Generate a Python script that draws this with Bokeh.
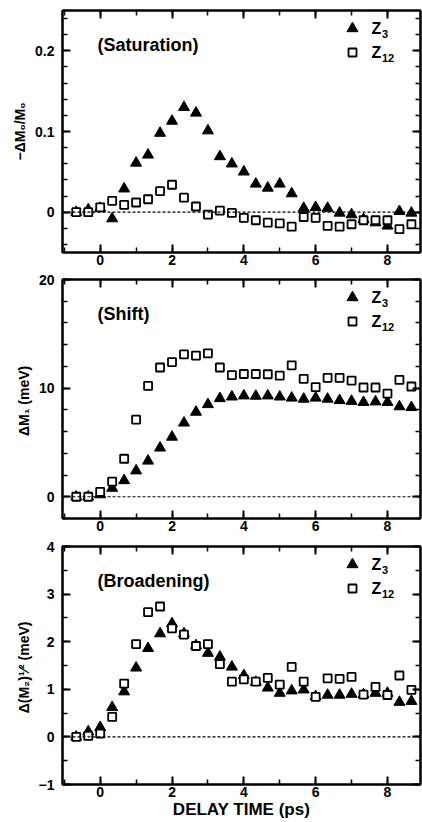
from bokeh.plotting import figure
from bokeh.layouts import column
from bokeh.models import (Range1d, LinearAxis, Label, SingleIntervalTicker,
                          CustomJSTickFormatter, Span)
from bokeh.embed import file_html
from bokeh.resources import INLINE

# ---------------- data ----------------
delay_ps = [-0.667, -0.333, 0.0, 0.333, 0.667, 1.0, 1.333, 1.667, 2.0, 2.333,
            2.667, 3.0, 3.333, 3.667, 4.0, 4.333, 4.667, 5.0, 5.333, 5.667,
            6.0, 6.333, 6.667, 7.0, 7.333, 7.667, 8.0, 8.333, 8.667]

sat_z3 = [0.0, 0.003, 0.005, -0.008, 0.029, 0.061, 0.071, 0.098, 0.113, 0.130,
          0.123, 0.101, 0.069, 0.060, 0.050, 0.035, 0.030, 0.035, 0.023, 0.005,
          0.006, 0.005, -0.001, -0.003, -0.009, -0.013, -0.017, 0.001, -0.001]
sat_z12 = [0.0, 0.0, 0.006, 0.014, 0.009, 0.012, 0.016, 0.026, 0.034, 0.018,
           0.007, -0.003, 0.002, -0.001, -0.007, -0.010, -0.013, -0.014, -0.018, -0.006,
           -0.007, -0.017, -0.018, -0.015, -0.010, -0.010, -0.010, -0.021, -0.015]

shift_z3 = [0.0, 0.0, 0.2, 0.8, 1.5, 2.4, 3.3, 4.5, 5.5, 6.8,
            7.8, 8.5, 9.05, 9.2, 9.3, 9.27, 9.3, 9.2, 9.1, 9.0,
            9.1, 9.0, 8.87, 8.8, 8.7, 8.75, 8.7, 8.3, 8.23]
shift_z12 = [0.0, 0.0, 0.46, 1.4, 3.5, 7.1, 10.2, 11.9, 12.4, 13.1,
             13.0, 13.2, 11.9, 11.2, 11.3, 11.3, 11.28, 11.15, 12.1, 10.85,
             10.1, 10.95, 10.95, 10.7, 10.06, 10.06, 9.5, 10.76, 10.15]

broad_z3 = [0.0, 0.11, 0.2, 0.62, 0.95, 1.45, 1.86, 2.17, 2.38, 2.17,
            1.92, 1.76, 1.68, 1.47, 1.29, 1.15, 1.03, 0.92, 0.97, 0.99,
            0.85, 0.88, 0.88, 0.9, 0.89, 0.92, 0.92, 0.73, 0.75]
broad_z12 = [0.0, 0.02, 0.07, 0.42, 1.12, 1.95, 2.62, 2.74, 2.28, 2.15,
             1.91, 1.95, 1.53, 1.16, 1.21, 1.16, 1.24, 1.1, 1.47, 1.16,
             0.84, 1.23, 1.22, 1.26, 0.89, 1.05, 0.88, 1.29, 0.99]

panel_titles = ["(Saturation)", "(Shift)", "(Broadening)"]
y_labels = ["\u2212\u0394M\u2080/M\u2080", "\u0394M\u2081  (meV)", "\u0394(M\u2082)\u00b9\u2044\u00b2  (meV)"]
x_label = "DELAY TIME (ps)"
legend_main = ["Z", "Z"]
legend_sub = ["3", "12"]

# ---------------- layout ----------------
FONT = "Liberation Sans"
X_START, X_END = -1.05, 8.92
FIG_W = 422
B_LEFT, B_RIGHT = 62, 2
FRAME_W = FIG_W - B_LEFT - B_RIGHT

panels = [
    dict(z3=sat_z3, z12=sat_z12, yr=(-0.05, 0.25), interval=0.1, minor=5, dec=1,
         fh=242, bt=10, bb=18),
    dict(z3=shift_z3, z12=shift_z12, yr=(-2, 20), interval=10, minor=5, dec=0,
         fh=239, bt=9, bb=19),
    dict(z3=broad_z3, z12=broad_z12, yr=(-1, 4), interval=1, minor=2, dec=0,
         fh=238, bt=9, bb=38),
]


def fmt(dec):
    return CustomJSTickFormatter(code=f"""
        if (Math.abs(tick) < 1e-9) return "0";
        let s = Math.abs(tick).toFixed({dec});
        return (tick < 0 ? "\\u2212" : "") + s;
    """)


def style_axis(ax, show_labels=True):
    ax.axis_line_width = 2
    ax.axis_line_color = "black"
    ax.major_tick_in = 8
    ax.major_tick_out = 0
    ax.minor_tick_in = 5
    ax.minor_tick_out = 0
    ax.major_tick_line_width = 2
    ax.minor_tick_line_width = 1.5
    ax.major_label_text_font = FONT
    ax.major_label_text_font_style = "bold"
    ax.major_label_text_font_size = "14px"
    ax.major_label_text_color = "black"
    if not show_labels:
        ax.formatter = CustomJSTickFormatter(code="return '';")
        ax.major_label_standoff = 0


figs = []
for i, cfg in enumerate(panels):
    y0, y1 = cfg["yr"]
    h = cfg["bt"] + cfg["fh"] + cfg["bb"]
    p = figure(width=FIG_W, height=h, output_backend="svg", toolbar_location=None,
               x_range=Range1d(X_START, X_END), y_range=Range1d(y0, y1),
               min_border_left=B_LEFT, min_border_right=B_RIGHT,
               min_border_top=cfg["bt"], min_border_bottom=cfg["bb"])
    p.grid.visible = False
    p.outline_line_color = "black"
    p.outline_line_width = 2
    p.background_fill_color = "white"
    p.border_fill_color = "white"

    bottom_ax = p.below[0]
    left_ax = p.left[0]
    bottom_ax.ticker = SingleIntervalTicker(interval=2, num_minor_ticks=2)
    left_ax.ticker = SingleIntervalTicker(interval=cfg["interval"], num_minor_ticks=cfg["minor"])
    left_ax.formatter = fmt(cfg["dec"])
    style_axis(bottom_ax)
    bottom_ax.major_label_standoff = 2
    style_axis(left_ax)
    left_ax.major_label_standoff = 8
    left_ax.axis_label = y_labels[i]
    left_ax.axis_label_text_font = FONT
    left_ax.axis_label_text_font_style = "bold"
    left_ax.axis_label_text_font_size = "14px"
    left_ax.axis_label_text_color = "black"
    left_ax.axis_label_standoff = 4

    top = LinearAxis(ticker=SingleIntervalTicker(interval=2, num_minor_ticks=2))
    style_axis(top, show_labels=False)
    p.add_layout(top, "above")
    right = LinearAxis(ticker=SingleIntervalTicker(interval=cfg["interval"], num_minor_ticks=cfg["minor"]))
    style_axis(right, show_labels=False)
    p.add_layout(right, "right")

    # zero reference line
    p.add_layout(Span(location=0, dimension="width", line_color="black",
                      line_dash="3 2", line_width=1.2))

    # data
    p.scatter(delay_ps, cfg["z3"], marker="triangle", size=11,
              fill_color="black", line_color="black", line_width=1)
    p.scatter(delay_ps, cfg["z12"], marker="square", size=8,
              fill_color="white", line_color="black", line_width=1.8)

    upx = (X_END - X_START) / FRAME_W
    vpx = (y1 - y0) / cfg["fh"]

    def dx(px):
        return X_START + px * upx

    def dy(px_from_top):
        return y1 - px_from_top * vpx

    # panel title
    p.add_layout(Label(x=dx(35), y=dy(34), text=panel_titles[i],
                       text_font=FONT, text_font_style="bold", text_font_size="18px",
                       text_align="left", text_baseline="middle", text_color="black"))

    # legend
    for j, (mk, ypx) in enumerate([("triangle", 18), ("square", 42)]):
        if mk == "triangle":
            p.scatter([dx(290)], [dy(ypx)], marker="triangle", size=11,
                      fill_color="black", line_color="black")
        else:
            p.scatter([dx(290)], [dy(ypx)], marker="square", size=8,
                      fill_color="white", line_color="black", line_width=1.8)
        p.add_layout(Label(x=dx(309), y=dy(ypx), text=legend_main[j],
                           text_font=FONT, text_font_style="bold", text_font_size="16px",
                           text_align="left", text_baseline="middle", text_color="black"))
        p.add_layout(Label(x=dx(319.5), y=dy(ypx + 5), text=legend_sub[j],
                           text_font=FONT, text_font_style="bold", text_font_size="11px",
                           text_align="left", text_baseline="middle", text_color="black"))

    if i == 2:
        bottom_ax.axis_label = x_label
        bottom_ax.axis_label_text_font = FONT
        bottom_ax.axis_label_text_font_style = "bold"
        bottom_ax.axis_label_text_font_size = "17px"
        bottom_ax.axis_label_text_color = "black"
        bottom_ax.axis_label_standoff = 0
    figs.append(p)

layout = column(*figs, spacing=0)
open("out.html", "w").write(file_html(layout, INLINE))
